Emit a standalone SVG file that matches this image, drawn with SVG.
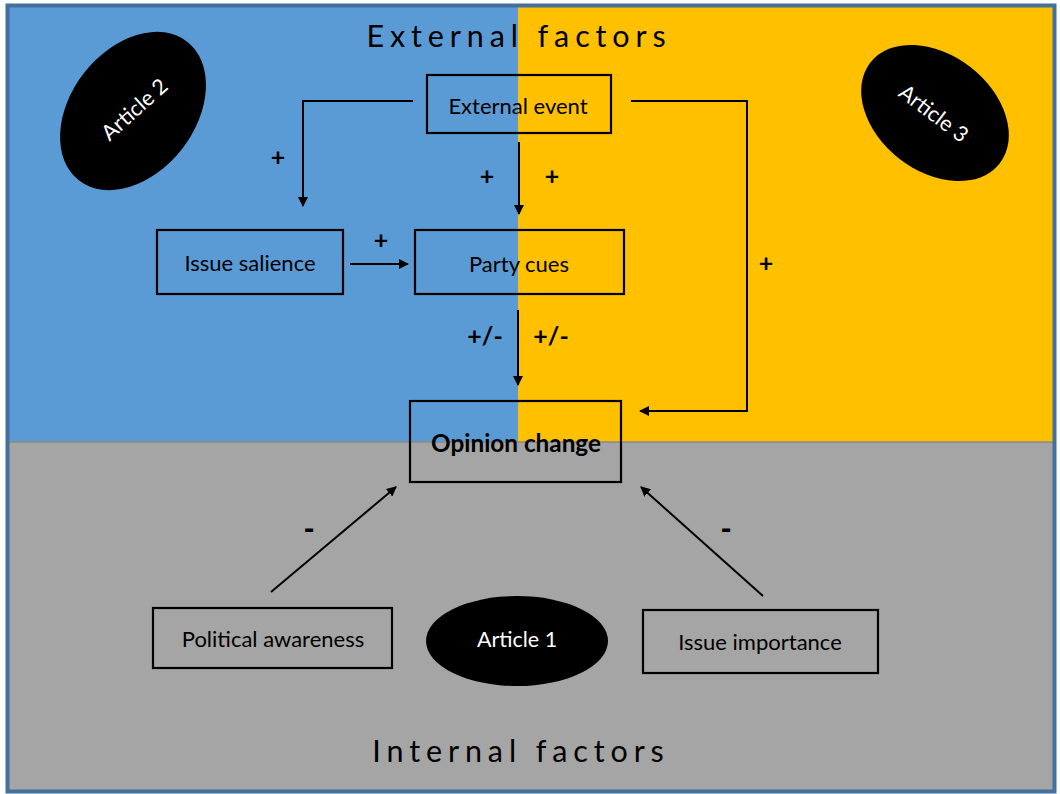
<svg xmlns="http://www.w3.org/2000/svg" width="1060" height="794" viewBox="0 0 1060 794">
<defs>
<marker id="ah" markerWidth="10" markerHeight="10" refX="9" refY="5" orient="auto" markerUnits="userSpaceOnUse" viewBox="0 0 10 10">
<path d="M0,0 L10,5 L0,10 z" fill="#000"/>
</marker>
<style>
.box{fill:none;stroke:#000;stroke-width:2.2}
.lbl{font-family:Lato,"Liberation Sans",sans-serif;font-size:22px;fill:#000;text-anchor:middle;dominant-baseline:central}
.sign{font-family:Lato,"Liberation Sans",sans-serif;font-size:25px;font-weight:bold;fill:#000;text-anchor:middle;dominant-baseline:central}
.title{font-family:Lato,"Liberation Sans",sans-serif;font-size:30.5px;letter-spacing:5.9px;fill:#000;text-anchor:middle}
.art{font-family:Lato,"Liberation Sans",sans-serif;font-size:21.5px;fill:#fff;text-anchor:middle;dominant-baseline:central}
.conn{fill:none;stroke:#000;stroke-width:2;marker-end:url(#ah)}
</style>
</defs>
<rect x="0" y="0" width="1060" height="794" fill="#fff"/>
<g id="background">
<rect x="9" y="7" width="509" height="435" fill="#5b9bd5"/>
<rect x="518" y="7" width="535" height="435" fill="#ffc000"/>
<rect x="9" y="442" width="1044" height="348" fill="#a5a5a5"/>
<line x1="9" y1="442" x2="1053" y2="442" stroke="#8a8a8a" stroke-width="1.5"/>
<rect x="7.5" y="5.5" width="1047" height="786" fill="none" stroke="#41719c" stroke-width="4"/>
<text class="title" x="519" y="47">External factors</text>
<text class="title" x="521" y="762">Internal factors</text>
</g>
<g id="connectors">
<polyline class="conn" points="413,101 303,101 303,206"/>
<line class="conn" x1="519" y1="142" x2="519" y2="214"/>
<polyline class="conn" points="631,101 747,101 747,411 640,411"/>
<line class="conn" x1="350" y1="264" x2="408" y2="264"/>
<line class="conn" x1="518" y1="310" x2="518" y2="385"/>
<line class="conn" x1="271" y1="592" x2="396" y2="487"/>
<line class="conn" x1="763" y1="596" x2="641" y2="487"/>
<text class="sign" x="278" y="156">+</text>
<text class="sign" x="487" y="175">+</text>
<text class="sign" x="552" y="175">+</text>
<text class="sign" x="766" y="262">+</text>
<text class="sign" x="381" y="239">+</text>
<text class="sign" x="485" y="335">+/-</text>
<text class="sign" x="551" y="335">+/-</text>
<text class="sign" x="309" y="528" style="font-size:30px;font-weight:900">-</text>
<text class="sign" x="726" y="528" style="font-size:30px;font-weight:900">-</text>
</g>
<g id="external-event">
<rect class="box" x="427" y="75" width="184" height="58"/>
<text class="lbl" x="518" y="105">External event</text>
</g>
<g id="issue-salience">
<rect class="box" x="157" y="230" width="186" height="64"/>
<text class="lbl" x="250" y="262">Issue salience</text>
</g>
<g id="party-cues">
<rect class="box" x="415" y="230" width="209" height="64"/>
<text class="lbl" x="519" y="263">Party cues</text>
</g>
<g id="opinion-change">
<rect class="box" x="410" y="401" width="211" height="81"/>
<text class="lbl" x="516" y="442" style="font-weight:bold;font-size:24.3px">Opinion change</text>
</g>
<g id="political-awareness">
<rect class="box" x="153" y="608" width="239" height="60"/>
<text class="lbl" x="273" y="638">Political awareness</text>
</g>
<g id="issue-importance">
<rect class="box" x="643" y="610" width="235" height="63"/>
<text class="lbl" x="760" y="641">Issue importance</text>
</g>
<g id="article-1">
<ellipse cx="517" cy="641" rx="91" ry="45" fill="#000"/>
<text class="art" x="517" y="639">Article 1</text>
</g>
<g id="article-2">
<ellipse cx="0" cy="0" rx="88" ry="62" fill="#000" transform="translate(133,111) rotate(-52)"/>
<text class="art" x="0" y="0" transform="translate(134,109) rotate(-42)">Article 2</text>
</g>
<g id="article-3">
<ellipse cx="0" cy="0" rx="82" ry="58" fill="#000" transform="translate(935,113) rotate(38)"/>
<text class="art" x="0" y="0" transform="translate(934,113) rotate(37)">Article 3</text>
</g>
</svg>
